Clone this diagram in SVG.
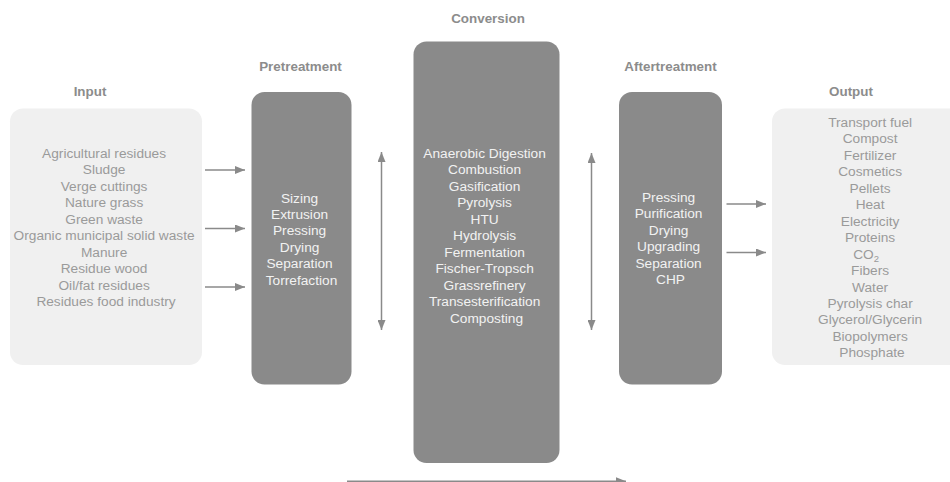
<svg xmlns="http://www.w3.org/2000/svg" width="950" height="482" viewBox="0 0 950 482">
  <defs>
    <marker id="head" viewBox="0 0 10 8" refX="10" refY="4" markerWidth="10" markerHeight="8" markerUnits="userSpaceOnUse" orient="auto-start-reverse">
      <path d="M0,0 L10,4 L0,8 Z" fill="#8a8a8a"/>
    </marker>
    <style>
      .title { font-family: "Liberation Sans", Arial, sans-serif; font-weight: bold; font-size: 13.4px; fill: #8c8c8c; text-anchor: middle; }
      .light { fill: #f0f0f0; }
      .dark { fill: #8a8a8a; }
      .lt { font-family: "Liberation Sans", Arial, sans-serif; font-size: 13.7px; fill: #9a9a9a; text-anchor: middle; }
      .dt { font-family: "Liberation Sans", Arial, sans-serif; font-size: 13.7px; fill: #f2f2f2; text-anchor: middle; }
      .conn line { stroke: #8a8a8a; stroke-width: 1.5; fill: none; }
    </style>
  </defs>
  <rect width="950" height="482" fill="#ffffff"/>

  <!-- stage titles -->
  <text class="title" x="90" y="96">Input</text>
  <text class="title" x="300.5" y="71">Pretreatment</text>
  <text class="title" x="488" y="23">Conversion</text>
  <text class="title" x="670.5" y="71">Aftertreatment</text>
  <text class="title" x="851" y="96">Output</text>

  <g id="input">
    <rect class="light" x="10" y="108.5" width="192" height="256.5" rx="13"/>
    <text class="lt">
      <tspan x="106" y="158">Agricultural residues</tspan>
      <tspan x="106" dy="16.45">Sludge</tspan>
      <tspan x="106" dy="16.45">Verge cuttings</tspan>
      <tspan x="106" dy="16.45">Nature grass</tspan>
      <tspan x="106" dy="16.45">Green waste</tspan>
      <tspan x="106" dy="16.45">Organic municipal solid waste</tspan>
      <tspan x="106" dy="16.45">Manure</tspan>
      <tspan x="106" dy="16.45">Residue wood</tspan>
      <tspan x="106" dy="16.45">Oil/fat residues</tspan>
      <tspan x="106" dy="16.45">Residues food industry</tspan>
    </text>
  </g>

  <g id="pretreatment">
    <rect class="dark" x="251.5" y="92" width="100" height="292.5" rx="13"/>
    <text class="dt">
      <tspan x="301.5" y="202.5">Sizing</tspan>
      <tspan x="301.5" dy="16.45">Extrusion</tspan>
      <tspan x="301.5" dy="16.45">Pressing</tspan>
      <tspan x="301.5" dy="16.45">Drying</tspan>
      <tspan x="301.5" dy="16.45">Separation</tspan>
      <tspan x="301.5" dy="16.45">Torrefaction</tspan>
    </text>
  </g>

  <g id="conversion">
    <rect class="dark" x="413.5" y="41.5" width="146" height="421.5" rx="13"/>
    <text class="dt">
      <tspan x="486.5" y="158">Anaerobic Digestion</tspan>
      <tspan x="486.5" dy="16.45">Combustion</tspan>
      <tspan x="486.5" dy="16.45">Gasification</tspan>
      <tspan x="486.5" dy="16.45">Pyrolysis</tspan>
      <tspan x="486.5" dy="16.45">HTU</tspan>
      <tspan x="486.5" dy="16.45">Hydrolysis</tspan>
      <tspan x="486.5" dy="16.45">Fermentation</tspan>
      <tspan x="486.5" dy="16.45">Fischer-Tropsch</tspan>
      <tspan x="486.5" dy="16.45">Grassrefinery</tspan>
      <tspan x="486.5" dy="16.45">Transesterification</tspan>
      <tspan x="486.5" dy="16.45">Composting</tspan>
    </text>
  </g>

  <g id="aftertreatment">
    <rect class="dark" x="619" y="92" width="103" height="292.5" rx="13"/>
    <text class="dt">
      <tspan x="670.5" y="202">Pressing</tspan>
      <tspan x="670.5" dy="16.45">Purification</tspan>
      <tspan x="670.5" dy="16.45">Drying</tspan>
      <tspan x="670.5" dy="16.45">Upgrading</tspan>
      <tspan x="670.5" dy="16.45">Separation</tspan>
      <tspan x="670.5" dy="16.45">CHP</tspan>
    </text>
  </g>

  <g id="output">
    <rect class="light" x="772" y="108.5" width="192" height="256.5" rx="13"/>
    <text class="lt">
      <tspan x="872" y="127">Transport fuel</tspan>
      <tspan x="872" dy="16.45">Compost</tspan>
      <tspan x="872" dy="16.45">Fertilizer</tspan>
      <tspan x="872" dy="16.45">Cosmetics</tspan>
      <tspan x="872" dy="16.45">Pellets</tspan>
      <tspan x="872" dy="16.45">Heat</tspan>
      <tspan x="872" dy="16.45">Electricity</tspan>
      <tspan x="872" dy="16.45">Proteins</tspan>
      <tspan x="868" dy="16.45">CO</tspan><tspan font-size="9.5" dy="3">2</tspan>
      <tspan x="872" dy="13.45">Fibers</tspan>
      <tspan x="872" dy="16.45">Water</tspan>
      <tspan x="872" dy="16.45">Pyrolysis char</tspan>
      <tspan x="872" dy="16.45">Glycerol/Glycerin</tspan>
      <tspan x="872" dy="16.45">Biopolymers</tspan>
      <tspan x="872" dy="16.45">Phosphate</tspan>
    </text>
  </g>

  <g id="connectors" class="conn">
    <!-- input to pretreatment -->
    <line x1="205" y1="170" x2="245" y2="170" marker-end="url(#head)"/>
    <line x1="205" y1="228.5" x2="245" y2="228.5" marker-end="url(#head)"/>
    <line x1="205" y1="287" x2="245" y2="287" marker-end="url(#head)"/>
    <!-- two-way exchanges around conversion -->
    <line x1="381.5" y1="152" x2="381.5" y2="330" marker-start="url(#head)" marker-end="url(#head)"/>
    <line x1="591.5" y1="153" x2="591.5" y2="330" marker-start="url(#head)" marker-end="url(#head)"/>
    <!-- aftertreatment to output -->
    <line x1="726.5" y1="204" x2="766" y2="204" marker-end="url(#head)"/>
    <line x1="726.5" y1="252.5" x2="766" y2="252.5" marker-end="url(#head)"/>
    <!-- overall flow direction -->
    <line x1="347" y1="481.3" x2="626" y2="481.3" marker-end="url(#head)"/>
  </g>
</svg>
